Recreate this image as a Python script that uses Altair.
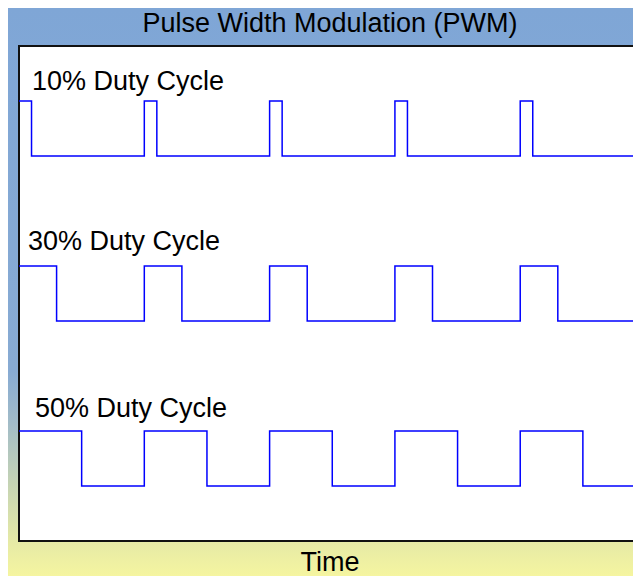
import altair as alt
import pandas as pd

# ---- data ----
labels = ["10% Duty Cycle", "30% Duty Cycle", "50% Duty Cycle"]
duty_cycles = [0.10, 0.30, 0.50]
rise_times = [0, 1, 2, 3, 4]          # start of each period
low_levels = [7, 4, 1]
high_levels = [8, 5, 2]
label_t = [0.104, 0.072, 0.128]
label_v = [8.2, 5.3, 2.26]
t_end = 4.90
title_text = "Pulse Width Modulation (PWM)"
x_title = "Time"

# ---- layout (pixels) ----
W, H = 614, 495
PAD = {"left": 11, "top": 38, "right": 0, "bottom": 35}
FONT = "Liberation Sans"

# build step points of each waveform from its edge times
rows = []
for lab, d, lo, hi in zip(labels, duty_cycles, low_levels, high_levels):
    i = 0
    for k in rise_times:
        if k > 0:
            rows.append({"series": lab, "i": i, "t": k, "v": lo}); i += 1
        rows.append({"series": lab, "i": i, "t": k, "v": hi}); i += 1
        rows.append({"series": lab, "i": i, "t": k + d, "v": hi}); i += 1
        rows.append({"series": lab, "i": i, "t": k + d, "v": lo}); i += 1
    rows.append({"series": lab, "i": i, "t": t_end, "v": lo})
wave = pd.DataFrame(rows)
lab_df = pd.DataFrame({"label": labels, "t": label_t, "v": label_v})
one = pd.DataFrame({"a": [0]})

xscale = alt.Scale(domain=[0, t_end], nice=False, zero=False)
yscale = alt.Scale(domain=[0, 9], nice=False, zero=False)

gradient = alt.Gradient(
    gradient="linear",
    stops=[
        alt.GradientStop(color="#7fa6d6", offset=0),
        alt.GradientStop(color="#88abd3", offset=0.64),
        alt.GradientStop(color="#a2bcc8", offset=0.73),
        alt.GradientStop(color="#c6d4b4", offset=0.84),
        alt.GradientStop(color="#e6eaa6", offset=0.94),
        alt.GradientStop(color="#f5f5a0", offset=1),
    ],
    x1=0, x2=0, y1=0, y2=1,
)

bg = alt.Chart(one).mark_rect(fill=gradient, strokeWidth=0).encode(
    x=alt.value(-PAD["left"]), x2=alt.value(W + 20),
    y=alt.value(-PAD["top"]), y2=alt.value(H + PAD["bottom"]),
)

plot_bg = alt.Chart(one).mark_rect(fill="white", stroke="#111111", strokeWidth=2).encode(
    x=alt.value(0), x2=alt.value(W + 20),
    y=alt.value(0), y2=alt.value(H),
)

lines = alt.Chart(wave).mark_line(color="#0000ff", strokeWidth=1.5).encode(
    x=alt.X("t:Q", scale=xscale, axis=None),
    y=alt.Y("v:Q", scale=yscale, axis=None),
    detail="series:N",
    order="i:Q",
)

texts = alt.Chart(lab_df).mark_text(
    align="left", baseline="alphabetic", fontSize=27, font=FONT, color="black"
).encode(
    x=alt.X("t:Q", scale=xscale, axis=None),
    y=alt.Y("v:Q", scale=yscale, axis=None),
    text="label:N",
)

title = alt.Chart(one).mark_text(
    align="center", baseline="alphabetic", fontSize=27, font=FONT, color="black"
).encode(x=alt.value(311), y=alt.value(-14), text=alt.value(title_text))

xlab = alt.Chart(one).mark_text(
    align="center", baseline="alphabetic", fontSize=27, font=FONT, color="black"
).encode(x=alt.value(311), y=alt.value(H + 30), text=alt.value(x_title))

chart = alt.layer(bg, plot_bg, lines, texts, title, xlab).properties(
    width=W, height=H, padding=PAD, autosize=alt.AutoSizeParams(type="none"),
).configure_view(stroke=None, fill=None)

chart.save("out.html", embed_options={"renderer": "svg", "actions": False})
